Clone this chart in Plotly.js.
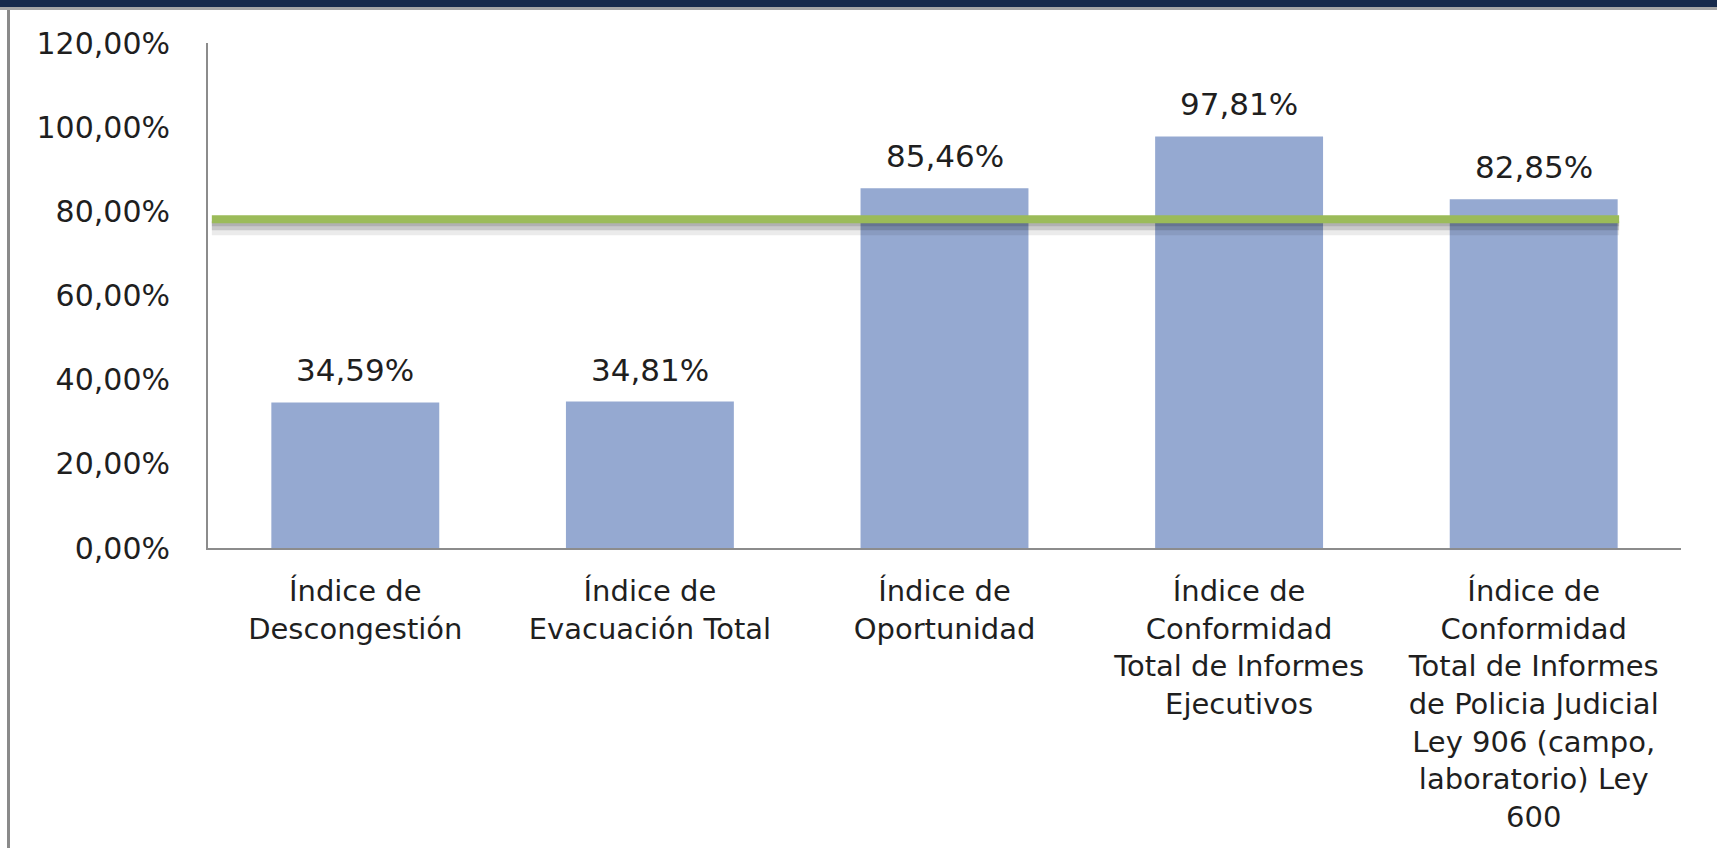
<!DOCTYPE html>
<html>
<head>
<meta charset="utf-8">
<script src="https://cdn.plot.ly/plotly-3.0.1.min.js"></script>
<style>
  html, body { margin: 0; padding: 0; background: #ffffff; }
  #chart { width: 1717px; height: 848px; }
  .topband { position: absolute; left: 0; top: 0; width: 1717px; height: 7px; background: #172a4c; z-index: 5; }
  .topshadow { position: absolute; left: 0; top: 7px; width: 1717px; height: 3px; background: #a6a6a6; z-index: 5; }
  .leftline { position: absolute; left: 7px; top: 10px; width: 3px; height: 838px; background: #8a8a8a; z-index: 5; }
</style>
</head>
<body>
<div class="topband"></div>
<div class="topshadow"></div>
<div class="leftline"></div>
<div id="chart"></div>
<script>
const categories = [
  "Índice de<br>Descongestión",
  "Índice de<br>Evacuación Total",
  "Índice de<br>Oportunidad",
  "Índice de<br>Conformidad<br>Total de Informes<br>Ejecutivos",
  "Índice de<br>Conformidad<br>Total de Informes<br>de Policia Judicial<br>Ley 906 (campo,<br>laboratorio) Ley<br>600"
];
const values = [34.59, 34.81, 85.46, 97.81, 82.85];
const targetValue = 78.1;
const yTickValues = [0, 20, 40, 60, 80, 100, 120];

const fmt = v => v.toFixed(2).replace('.', ',') + '%';
const FONT = 'DejaVu Sans, Verdana, sans-serif';
const TEXT = '#1f1f1f';

const idx = categories.map((c, i) => i);

const bars = {
  type: 'bar',
  x: idx,
  y: values,
  marker: { color: '#95a9d1', line: { width: 0 } },
  width: 0.57,
  hoverinfo: 'skip'
};

const annotations = values.map((v, i) => ({
  x: i, y: v, xref: 'x', yref: 'y',
  text: fmt(v), showarrow: false,
  yanchor: 'middle', yshift: 32,
  font: { family: FONT, size: 31, color: TEXT }
}));

const layout = {
  width: 1717, height: 848,
  margin: { l: 208, r: 36, t: 43, b: 300, pad: 0 },
  paper_bgcolor: '#ffffff', plot_bgcolor: '#ffffff',
  showlegend: false,
  separators: ',.',
  xaxis: {
    range: [-0.5, 4.5],
    tickmode: 'array', tickvals: idx, ticktext: categories,
    showgrid: false, zeroline: false,
    showline: true, linecolor: '#8c8c8c', linewidth: 2,
    ticks: '', ticklabelstandoff: 16,
    tickfont: { family: FONT, size: 29, color: TEXT },
    fixedrange: true
  },
  yaxis: {
    range: [0, 120],
    tickmode: 'array', tickvals: yTickValues,
    ticktext: yTickValues.map(fmt),
    showgrid: false, zeroline: false,
    showline: true, linecolor: '#8c8c8c', linewidth: 2,
    ticks: '', ticklabelstandoff: 30,
    tickfont: { family: FONT, size: 30, color: TEXT },
    fixedrange: true
  },
  shapes: [
    { type: 'rect', xref: 'x', yref: 'y', x0: -0.487, x1: 4.29,
      ysizemode: 'pixel', yanchor: targetValue, y0: -2, y1: -16,
      fillcolor: 'rgba(0,0,0,0.08)', line: { width: 0 }, layer: 'above' },
    { type: 'rect', xref: 'x', yref: 'y', x0: -0.487, x1: 4.29,
      ysizemode: 'pixel', yanchor: targetValue, y0: -2, y1: -11,
      fillcolor: 'rgba(0,0,0,0.14)', line: { width: 0 }, layer: 'above' },
    { type: 'rect', xref: 'x', yref: 'y', x0: -0.487, x1: 4.29,
      ysizemode: 'pixel', yanchor: targetValue, y0: -2, y1: -7,
      fillcolor: 'rgba(0,0,0,0.12)', line: { width: 0 }, layer: 'above' },
    { type: 'line', xref: 'x', yref: 'y', x0: -0.487, x1: 4.29,
      y0: targetValue, y1: targetValue,
      line: { color: '#9bbb59', width: 8 }, layer: 'above' }
  ],
  annotations: annotations
};

Plotly.newPlot('chart', [bars], layout, { displayModeBar: false, staticPlot: true });
</script>
</body>
</html>
